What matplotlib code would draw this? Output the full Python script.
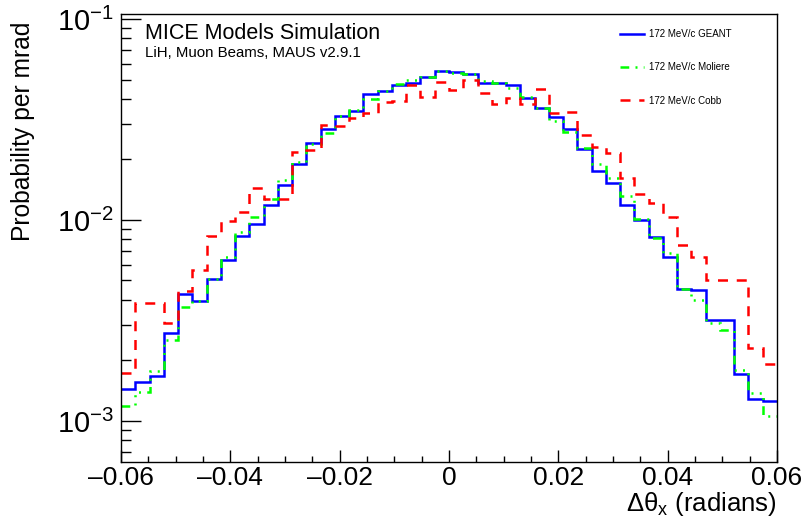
import numpy as np
import matplotlib
matplotlib.use("Agg")
import matplotlib.pyplot as plt
from matplotlib.ticker import MultipleLocator, LogLocator, NullFormatter
from matplotlib.lines import Line2D

plt.rcParams["font.family"] = ["Liberation Sans", "DejaVu Sans"]
plt.rcParams["mathtext.fontset"] = "custom"
plt.rcParams["mathtext.rm"] = "Liberation Sans"
plt.rcParams["mathtext.it"] = "Liberation Sans:italic"
plt.rcParams["mathtext.default"] = "regular"

# 46 bins from -0.06 to 0.06 rad
bin_edges = np.linspace(-0.06, 0.06, 47)

geant = [
    1.45e-3, 1.57e-3, 1.68e-3, 2.75e-3, 4.28e-3, 3.97e-3, 5.07e-3, 6.32e-3,
    8.33e-3, 9.55e-3, 1.19e-2, 1.50e-2, 1.89e-2, 2.41e-2, 2.85e-2, 3.29e-2,
    3.49e-2, 4.24e-2, 4.37e-2, 4.72e-2, 4.83e-2, 5.16e-2, 5.53e-2, 5.48e-2,
    5.31e-2, 4.79e-2, 4.82e-2, 4.71e-2, 4.03e-2, 3.62e-2, 3.27e-2, 2.85e-2,
    2.26e-2, 1.75e-2, 1.52e-2, 1.19e-2, 1.00e-2, 8.20e-3, 6.54e-3, 4.55e-3,
    4.48e-3, 3.18e-3, 3.18e-3, 1.71e-3, 1.28e-3, 1.25e-3,
]
moliere = [
    1.19e-3, 1.39e-3, 1.78e-3, 2.53e-3, 3.70e-3, 3.97e-3, 5.09e-3, 6.57e-3,
    8.75e-3, 1.03e-2, 1.27e-2, 1.58e-2, 1.95e-2, 2.39e-2, 2.70e-2, 3.31e-2,
    3.53e-2, 4.01e-2, 4.40e-2, 4.73e-2, 4.97e-2, 5.16e-2, 5.53e-2, 5.41e-2,
    5.31e-2, 4.92e-2, 4.79e-2, 4.54e-2, 4.09e-2, 3.62e-2, 3.11e-2, 2.75e-2,
    2.27e-2, 1.90e-2, 1.61e-2, 1.31e-2, 1.01e-2, 8.11e-3, 6.88e-3, 4.51e-3,
    4.00e-3, 3.06e-3, 2.84e-3, 1.79e-3, 1.38e-3, 1.06e-3,
]
cobb = [
    1.74e-3, 3.85e-3, 3.85e-3, 3.08e-3, 4.45e-3, 5.64e-3, 8.33e-3, 9.89e-3,
    1.10e-2, 1.44e-2, 1.27e-2, 1.27e-2, 2.19e-2, 2.22e-2, 2.97e-2, 2.94e-2,
    3.22e-2, 3.41e-2, 3.86e-2, 3.93e-2, 4.67e-2, 4.07e-2, 4.88e-2, 4.42e-2,
    4.95e-2, 4.28e-2, 3.79e-2, 4.05e-2, 3.78e-2, 4.48e-2, 3.42e-2, 3.43e-2,
    2.65e-2, 2.31e-2, 2.15e-2, 1.61e-2, 1.34e-2, 1.22e-2, 1.04e-2, 7.54e-3,
    6.57e-3, 5.01e-3, 5.01e-3, 5.01e-3, 2.32e-3, 1.92e-3,
]
labels = ["172 MeV/c GEANT", "172 MeV/c Moliere", "172 MeV/c Cobb"]

fig = plt.figure(figsize=(8.03, 5.19), dpi=100)
ax = fig.add_axes([121 / 803, 1 - 462 / 519, 656 / 803, 448 / 519])

lw = 1.8
green_dash = (3.5, 2.5, 0.8, 2.5, 0.8, 2.5, 0.8, 2.5)
ax.stairs(geant, bin_edges, baseline=None, color="#0000ff", lw=lw)
ax.stairs(moliere, bin_edges, baseline=None, color="#00ff00", lw=lw,
          linestyle=(0, green_dash))
ax.stairs(cobb, bin_edges, baseline=None, color="#ff0000", lw=lw,
          linestyle=(0, (4, 3.5)))

ax.set_yscale("log")
ax.set_xlim(-0.06, 0.06)
ax.set_ylim(6.25e-4, 0.1059)

ax.xaxis.set_major_locator(MultipleLocator(0.02))
ax.xaxis.set_minor_locator(MultipleLocator(0.005))
ax.xaxis.set_major_formatter(
    plt.FuncFormatter(lambda v, p: "0" if abs(v) < 1e-9 else f"{v:.2f}".replace("-", "\u2013"))
)
ax.yaxis.set_major_locator(LogLocator(base=10))
ax.yaxis.set_minor_locator(LogLocator(base=10, subs=np.arange(2, 10)))
ax.yaxis.set_minor_formatter(NullFormatter())

ax.tick_params(axis="both", which="both", direction="in", top=False, right=False,
               width=1)
ax.tick_params(axis="x", which="major", length=8.6, pad=3, labelsize=19)
ax.tick_params(axis="x", which="minor", length=4.3)
ax.tick_params(axis="y", which="major", length=14.4, pad=5, labelsize=21)
ax.tick_params(axis="y", which="minor", length=7.2)
for s in ax.spines.values():
    s.set_linewidth(1)

fig.text(23 / 803, 1 - 22 / 519, "Probability per mrad", fontsize=17.7,
         rotation=90, ha="center", va="top")
ax.set_xlabel(r"$\Delta\theta_{\mathrm{x}}$ (radians)", fontsize=18.5, loc="right")
ax.xaxis.set_label_coords(1.0, -0.062)

ax.text(0.037, 0.98, "MICE Models Simulation", transform=ax.transAxes,
        fontsize=15.5, va="top", ha="left")
ax.text(0.037, 0.929, "LiH, Muon Beams, MAUS v2.9.1", transform=ax.transAxes,
        fontsize=10.8, va="top", ha="left")

handles = [
    Line2D([], [], color="#0000ff", lw=lw),
    Line2D([], [], color="#00ff00", lw=lw, linestyle=(0, green_dash)),
    Line2D([], [], color="#ff0000", lw=lw, linestyle=(0, (4, 3.5))),
]
ax.legend(handles, labels, loc="upper left", bbox_to_anchor=(0.748, 0.986),
          frameon=False, fontsize=7, handlelength=2.4, labelspacing=2.4,
          handletextpad=0.5)

fig.savefig("out.png", dpi=100)
